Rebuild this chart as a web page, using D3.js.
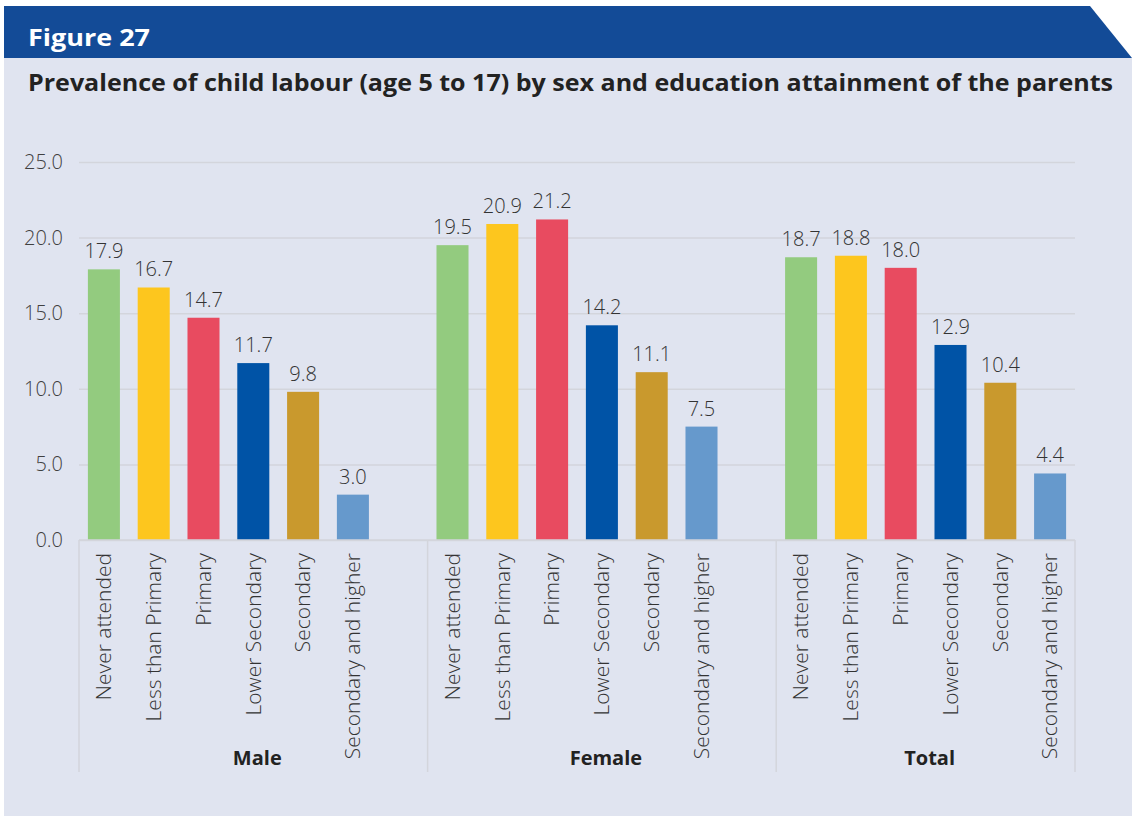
<!DOCTYPE html>
<head>
  <meta charset="utf-8">
  <title>Figure 27</title>
  <script src="https://cdn.jsdelivr.net/npm/d3@7"></script>
  <style>
    body { margin: 0; background: #fff; }
    text { font-family: "Open Sans", sans-serif; }
  </style>
</head>
<body>
<script>
var WIDTH = 1132;
var HEIGHT = 816;

// data
var groups = ["Male", "Female", "Total"];
var categories = ["Never attended", "Less than Primary", "Primary", "Lower Secondary", "Secondary", "Secondary and higher"];
var maleValues = [17.9, 16.7, 14.7, 11.7, 9.8, 3.0];
var femaleValues = [19.5, 20.9, 21.2, 14.2, 11.1, 7.5];
var totalValues = [18.7, 18.8, 18.0, 12.9, 10.4, 4.4];
var yTicks = [0, 5, 10, 15, 20, 25];
var colors = ["#93cb7f", "#fdc61e", "#e84b60", "#0053a6", "#c9992d", "#6699cc"];

var seriesByGroup = [maleValues, femaleValues, totalValues];

var svg = d3.select("body").append("svg")
            .attr("width", WIDTH)
            .attr("height", HEIGHT);

// panel + header
svg.append("rect")
   .attr("x", 4).attr("y", 58)
   .attr("width", WIDTH - 4).attr("height", HEIGHT - 58)
   .attr("fill", "#e0e4f0");
svg.append("path")
   .attr("d", "M4,6 L1090,6 L1132,58 L4,58 Z")
   .attr("fill", "#134b97");
svg.append("text")
   .attr("x", 28).attr("y", 46)
   .attr("fill", "#fff")
   .attr("font-size", 24)
   .attr("font-weight", 700)
   .attr("textLength", 122)
   .attr("lengthAdjust", "spacingAndGlyphs")
   .text("Figure 27");
svg.append("text")
   .attr("x", 28).attr("y", 91)
   .attr("fill", "#222")
   .attr("font-size", 23)
   .attr("font-weight", 700)
   .attr("textLength", 1085)
   .attr("lengthAdjust", "spacingAndGlyphs")
   .text("Prevalence of child labour (age 5 to 17) by sex and education attainment of the parents");

// one slot per bar, plus an empty slot after the first two groups
var slots = [];
groups.forEach(function(g, gi) {
  categories.forEach(function(c) { slots.push(g + "|" + c); });
  if (gi < groups.length - 1) slots.push(g + "|gap");
});

var plotLeft = 79, plotRight = 1075, plotTop = 162, plotBottom = 540;

var x = d3.scaleBand()
          .domain(slots)
          .range([plotLeft, plotRight])
          .paddingInner(0.357)
          .paddingOuter(0.357 / 2);

var y = d3.scaleLinear()
          .domain([0, 25])
          .range([plotBottom, plotTop]);

// gridlines + tick labels
var yAxis = d3.axisLeft(y)
              .tickValues(yTicks)
              .tickSize(-(plotRight - plotLeft))
              .tickPadding(16)
              .tickFormat(d3.format(".1f"));
var gy = svg.append("g")
            .attr("transform", "translate(" + plotLeft + ",0)")
            .call(yAxis);
gy.select(".domain").remove();
gy.selectAll(".tick line").attr("stroke", "#d3d5dc").attr("stroke-width", 1.5);
gy.selectAll(".tick text")
  .attr("font-size", 20)
  .attr("font-weight", 300)
  .attr("fill", "#404040")
  .attr("font-family", "Open Sans, sans-serif");

// bars
var bars = [];
groups.forEach(function(g, gi) {
  categories.forEach(function(c, ci) {
    bars.push({ key: g + "|" + c, value: seriesByGroup[gi][ci], color: colors[ci], cat: c });
  });
});

svg.append("g").selectAll("rect")
   .data(bars)
   .enter().append("rect")
   .attr("x", function(d) { return x(d.key); })
   .attr("y", function(d) { return y(d.value); })
   .attr("width", x.bandwidth())
   .attr("height", function(d) { return y(0) - y(d.value); })
   .attr("fill", function(d) { return d.color; });

svg.append("g").selectAll("text")
   .data(bars)
   .enter().append("text")
   .attr("x", function(d) { return x(d.key) + x.bandwidth() / 2; })
   .attr("y", function(d) { return y(d.value) - 11; })
   .attr("text-anchor", "middle")
   .attr("font-size", 20)
   .attr("font-weight", 300)
   .attr("fill", "#333")
   .text(function(d) { return d3.format(".1f")(d.value); });

// baseline + group separators
var sepBottom = 772;
svg.append("line")
   .attr("x1", plotLeft).attr("x2", plotRight)
   .attr("y1", plotBottom).attr("y2", plotBottom)
   .attr("stroke", "#d3d5dc").attr("stroke-width", 1.5);

var groupEdges = [plotLeft];
groups.forEach(function(g, gi) {
  if (gi < groups.length - 1) {
    groupEdges.push(x(g + "|gap") + x.bandwidth() + x.step() * x.paddingInner() / 2);
  } else {
    groupEdges.push(plotRight);
  }
});
svg.append("g").selectAll("line")
   .data(groupEdges)
   .enter().append("line")
   .attr("x1", function(d) { return d; }).attr("x2", function(d) { return d; })
   .attr("y1", plotBottom).attr("y2", sepBottom)
   .attr("stroke", "#d3d5dc").attr("stroke-width", 1.5);

// category labels
svg.append("g").selectAll("text")
   .data(bars)
   .enter().append("text")
   .attr("transform", function(d) {
     return "translate(" + (x(d.key) + x.bandwidth() / 2) + "," + (plotBottom + 13) + ") rotate(-90)";
   })
   .attr("dy", "0.35em")
   .attr("text-anchor", "end")
   .attr("font-size", 21)
   .attr("font-weight", 300)
   .attr("fill", "#333")
   .text(function(d) { return d.cat; });

// group labels
svg.append("g").selectAll("text")
   .data(groups)
   .enter().append("text")
   .attr("x", function(d, i) { return (groupEdges[i] + groupEdges[i + 1]) / 2 + 4; })
   .attr("y", 765)
   .attr("text-anchor", "middle")
   .attr("font-size", 20)
   .attr("font-weight", 700)
   .attr("fill", "#222")
   .text(function(d) { return d; });
</script>
</body>
